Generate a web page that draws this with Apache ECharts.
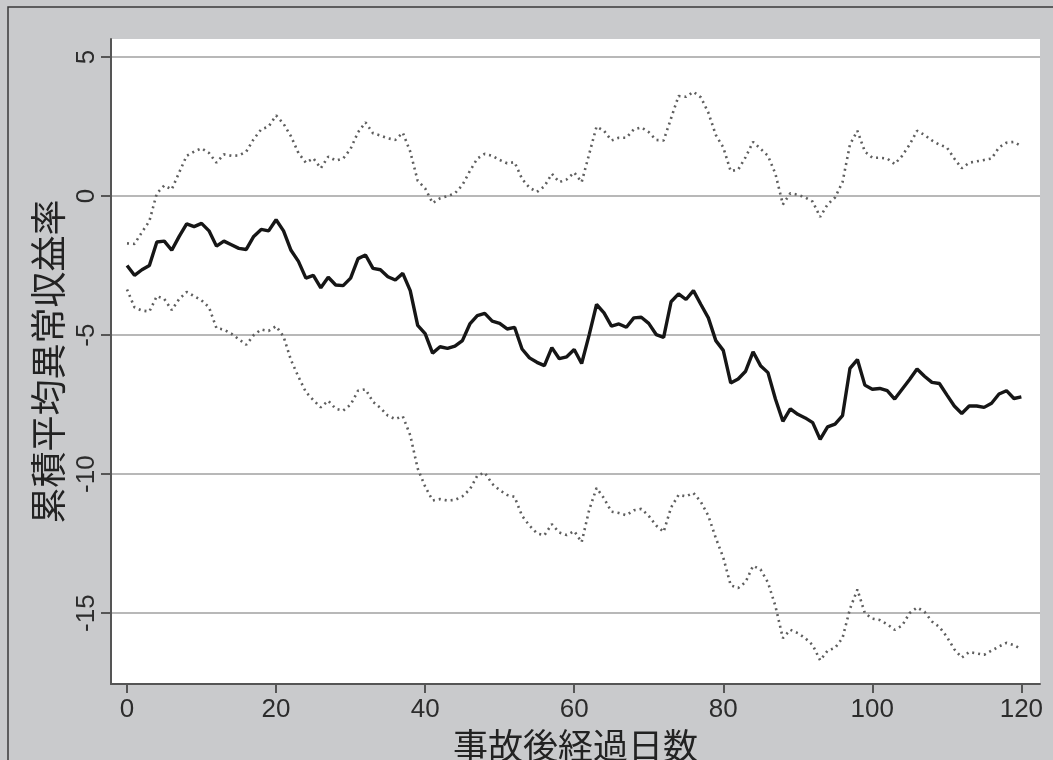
<!DOCTYPE html>
<html>
<head>
<meta charset="utf-8">
<script src="https://cdn.jsdelivr.net/npm/echarts@6/dist/echarts.min.js"></script>
<style>
html,body{margin:0;padding:0;background:#c9cacc;}
#chart{width:1053px;height:760px;}
</style>
</head>
<body>
<div id="chart"></div>
<script>
// Days after accident 0..120 (x positions)
const days = Array.from({length: 121}, (_, i) => i);

const xTicks = [0, 20, 40, 60, 80, 100, 120];
const yTicks = [-15, -10, -5, 0, 5];

const xTitle = '事故後経過日数';
const yTitle = '累積平均異常収益率';

// Mean cumulative abnormal return (solid line)
const meanCAR = [
 -2.5,-2.85,-2.65,-2.5,-1.65,-1.62,-1.95,-1.45,-1.0,-1.1,
 -0.98,-1.25,-1.8,-1.62,-1.75,-1.88,-1.92,-1.45,-1.2,-1.25,
 -0.85,-1.25,-1.95,-2.35,-2.95,-2.85,-3.3,-2.92,-3.2,-3.22,
 -2.95,-2.25,-2.12,-2.6,-2.65,-2.9,-3.02,-2.78,-3.4,-4.65,
 -4.95,-5.65,-5.42,-5.48,-5.4,-5.2,-4.6,-4.3,-4.22,-4.5,
 -4.58,-4.78,-4.72,-5.5,-5.82,-5.98,-6.1,-5.45,-5.85,-5.78,
 -5.52,-6.02,-5.0,-3.9,-4.2,-4.68,-4.6,-4.72,-4.38,-4.36,
 -4.58,-4.98,-5.08,-3.8,-3.52,-3.72,-3.4,-3.9,-4.38,-5.2,
 -5.55,-6.72,-6.58,-6.3,-5.6,-6.1,-6.35,-7.3,-8.1,-7.65,
 -7.85,-7.98,-8.15,-8.75,-8.3,-8.2,-7.9,-6.2,-5.88,-6.8,
 -6.95,-6.92,-7.0,-7.3,-6.95,-6.6,-6.22,-6.48,-6.7,-6.74,
 -7.15,-7.55,-7.82,-7.55,-7.55,-7.6,-7.45,-7.12,-7.0,-7.28,
 -7.22
];

// Upper confidence bound (dotted)
const upperCAR = [
 -1.7,-1.72,-1.3,-0.9,0.1,0.38,0.24,0.85,1.45,1.6,
 1.72,1.55,1.2,1.5,1.45,1.46,1.6,2.05,2.4,2.5,
 2.9,2.6,2.15,1.55,1.2,1.36,1.0,1.42,1.28,1.35,
 1.7,2.3,2.65,2.26,2.18,2.08,2.02,2.28,1.6,0.55,
 0.28,-0.25,-0.08,0.0,0.1,0.4,0.9,1.35,1.52,1.45,
 1.3,1.18,1.22,0.62,0.3,0.15,0.35,0.8,0.5,0.6,
 0.85,0.5,1.5,2.5,2.35,2.0,2.1,2.1,2.4,2.47,
 2.3,2.02,2.0,2.8,3.6,3.57,3.75,3.55,3.0,2.2,
 1.75,0.9,0.95,1.4,1.95,1.7,1.45,0.8,-0.3,0.1,
 0.05,-0.05,-0.2,-0.75,-0.3,-0.05,0.5,1.85,2.35,1.6,
 1.38,1.38,1.35,1.15,1.45,1.85,2.35,2.2,2.0,1.85,
 1.75,1.35,1.0,1.2,1.25,1.3,1.35,1.75,1.92,1.95,
 1.8
];

// Lower confidence bound (dotted)
const lowerCAR = [
 -3.36,-4.0,-4.12,-4.15,-3.6,-3.7,-4.1,-3.7,-3.45,-3.6,
 -3.75,-4.0,-4.75,-4.8,-4.95,-5.15,-5.35,-5.0,-4.8,-4.85,
 -4.68,-5.05,-5.9,-6.5,-7.05,-7.34,-7.6,-7.36,-7.65,-7.72,
 -7.5,-7.0,-6.95,-7.4,-7.62,-7.9,-8.02,-7.92,-8.6,-9.8,
 -10.45,-10.95,-10.9,-10.95,-10.93,-10.8,-10.55,-10.05,-9.95,-10.35,
 -10.58,-10.75,-10.82,-11.5,-11.85,-12.13,-12.2,-11.8,-12.1,-12.19,
 -12.05,-12.45,-11.3,-10.5,-10.87,-11.35,-11.4,-11.48,-11.3,-11.25,
 -11.5,-11.85,-12.08,-11.2,-10.75,-10.8,-10.68,-11.0,-11.5,-12.3,
 -13.0,-14.0,-14.1,-13.88,-13.3,-13.43,-13.9,-14.75,-15.9,-15.6,
 -15.72,-15.9,-16.15,-16.7,-16.35,-16.25,-15.9,-14.85,-14.15,-15.0,
 -15.2,-15.25,-15.4,-15.6,-15.45,-15.0,-14.8,-14.95,-15.3,-15.5,
 -15.85,-16.3,-16.6,-16.4,-16.45,-16.5,-16.35,-16.2,-16.07,-16.15,
 -16.3
];

const pairs = arr => days.map((d, i) => [d, arr[i]]);

const chart = echarts.init(document.getElementById('chart'), null, {renderer: 'canvas'});
const fontFam = '"Liberation Sans", Arial, sans-serif';
const cjkFam = '"Noto Sans CJK JP", "Noto Sans CJK SC", sans-serif';

chart.setOption({
  backgroundColor: '#c9cacc',
  animation: false,
  graphic: [{
    type: 'rect', silent: true, z: -1,
    shape: {x: 8, y: 7, width: 1100, height: 800},
    style: {fill: 'none', stroke: '#3a3a3a', lineWidth: 1.5}
  }],
  grid: {
    left: 111, top: 39, right: 13, bottom: 76,
    outerBoundsMode: 'none', containLabel: false,
    show: true, backgroundColor: '#ffffff', borderWidth: 0
  },
  xAxis: {
    type: 'value', min: -2.15, max: 122.5,
    name: xTitle, nameLocation: 'middle', nameGap: 39,
    nameTextStyle: {fontFamily: cjkFam, fontSize: 35, color: '#222'},
    axisLine: {show: true, onZero: false, lineStyle: {color: '#555', width: 2}},
    axisTick: {show: true, customValues: xTicks, length: 9, lineStyle: {color: '#555', width: 2}},
    axisLabel: {customValues: xTicks, fontFamily: fontFam, fontSize: 26, color: '#2c2c2c', margin: 13},
    splitLine: {show: false}
  },
  yAxis: {
    type: 'value', min: -17.55, max: 5.65,
    name: yTitle, nameLocation: 'middle', nameGap: 43, nameRotate: 90,
    nameTextStyle: {fontFamily: cjkFam, fontSize: 36, color: '#222'},
    axisLine: {show: true, onZero: false, lineStyle: {color: '#555', width: 2}},
    axisTick: {show: true, customValues: yTicks, length: 10, lineStyle: {color: '#555', width: 2}},
    axisLabel: {customValues: yTicks, rotate: 90, fontFamily: fontFam, fontSize: 26, color: '#2c2c2c', margin: 11},
    splitLine: {show: true, lineStyle: {color: '#b8b8b8', width: 2}}
  },
  series: [
    {
      type: 'line', data: pairs(upperCAR), symbol: 'none', smooth: false,
      lineStyle: {color: '#5e5e5e', width: 2.6, type: [2, 4]}, z: 2
    },
    {
      type: 'line', data: pairs(lowerCAR), symbol: 'none', smooth: false,
      lineStyle: {color: '#5e5e5e', width: 2.6, type: [2, 4]}, z: 2
    },
    {
      type: 'line', data: pairs(meanCAR), symbol: 'none', smooth: false,
      lineStyle: {color: '#161616', width: 3.4}, z: 3
    }
  ]
});
</script>
</body>
</html>
